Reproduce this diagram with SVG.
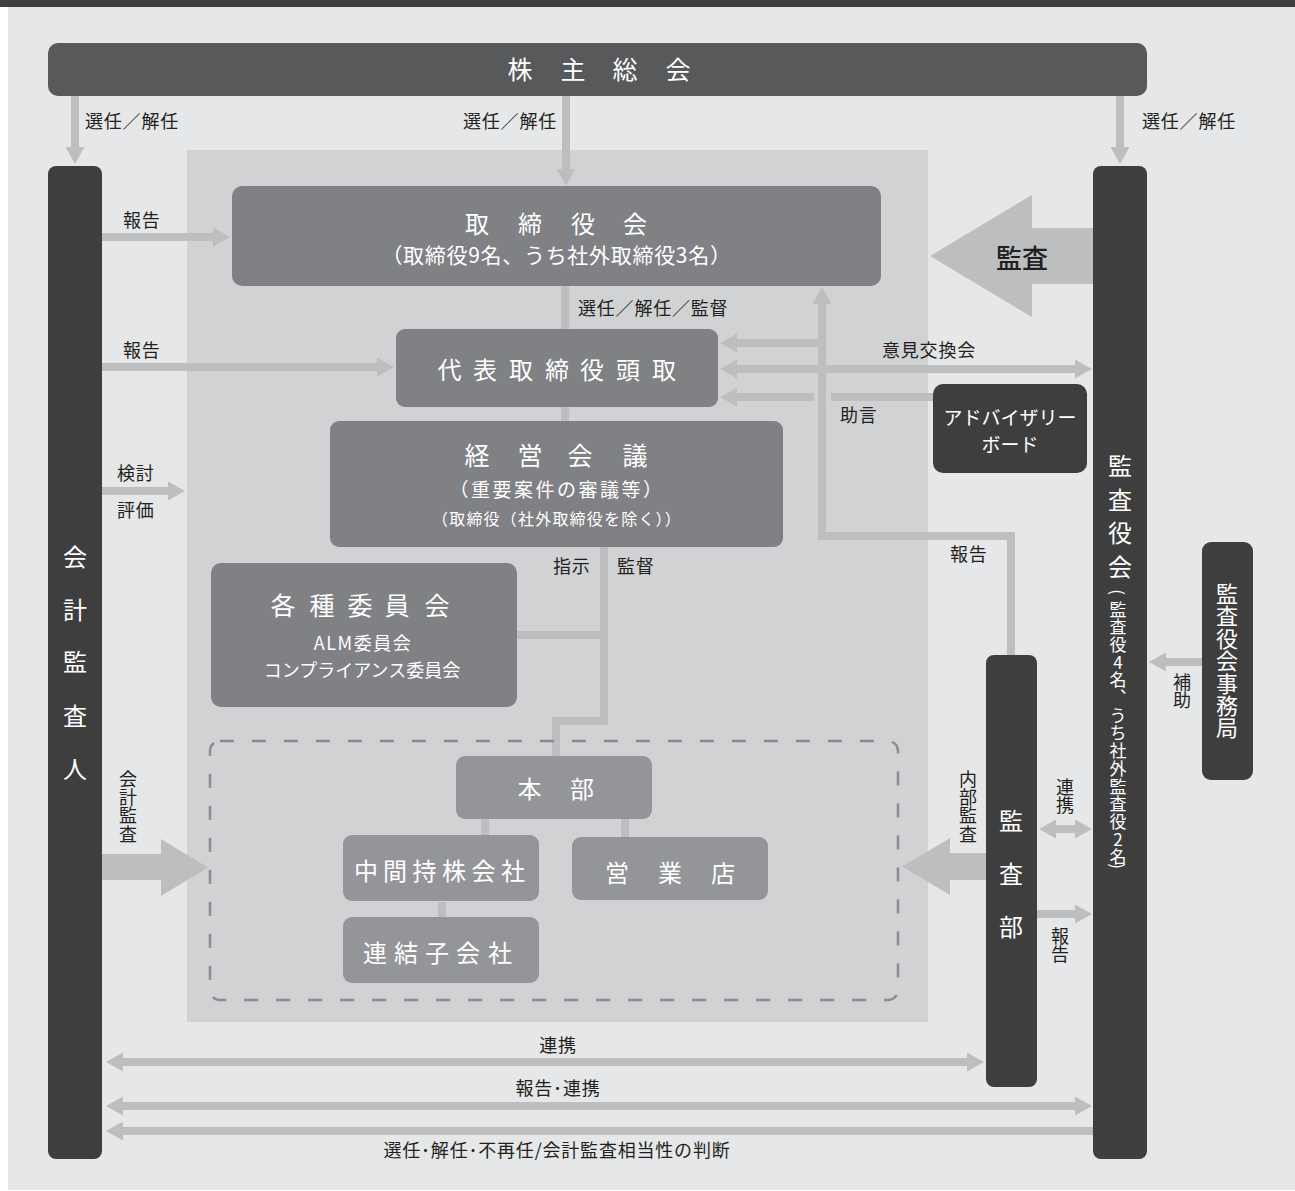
<svg xmlns="http://www.w3.org/2000/svg" width="1295" height="1191" viewBox="0 0 1295 1191">
<defs>
<style>
text{font-family:"Noto Sans CJK JP","Noto Sans CJK SC",sans-serif;}
.lb{font-size:18px;fill:#231f20;}
.sp{letter-spacing:0.8px;}
.w{fill:#ffffff;}
.dark{fill:#3e3e3f;}
.mid{fill:#808184;}
.light{fill:#949598;}
.c{stroke:#bcbec0;stroke-width:8;fill:none;}
.big{fill:#bcbec0;}
.mid-a{text-anchor:middle;}
.cen{dominant-baseline:central;}
</style>
<marker id="ah" viewBox="0 -10 18 20" markerWidth="18" markerHeight="20" refX="1" refY="0" orient="auto-start-reverse" markerUnits="userSpaceOnUse">
<path d="M0,-9.5 L17,0 L0,9.5Z" fill="#bcbec0"/>
</marker>
</defs>

<rect x="0" y="0" width="1295" height="1191" fill="#ffffff"/>
<rect x="8" y="7" width="1287" height="1183" fill="#e6e7e8"/>
<rect x="0" y="0" width="1295" height="7" fill="#3f3f40"/>
<rect x="187" y="150" width="741" height="872" fill="#d1d2d4"/>

<g id="connectors">
<path class="c" d="M75,96 V148" marker-end="url(#ah)"/>
<path class="c" d="M566,96 V170" marker-end="url(#ah)"/>
<path class="c" d="M1120,96 V148" marker-end="url(#ah)"/>
<path class="c" d="M102,237 H214" marker-end="url(#ah)"/>
<path class="c" d="M102,367 H378" marker-end="url(#ah)"/>
<path class="c" d="M102,491 H169" marker-end="url(#ah)"/>
<path class="c" d="M565,286 V329 M565,407 V421"/>
<path class="c" d="M1011,655 V536 H822 V303" marker-end="url(#ah)"/>
<path class="c" d="M822,343 H736" marker-end="url(#ah)"/>
<path class="c" d="M736,369 H1076" marker-start="url(#ah)" marker-end="url(#ah)"/>
<path class="c" d="M933,397 H831"/>
<path class="c" d="M814,397 H736" marker-end="url(#ah)"/>
<path class="c" d="M604,547 V721 H556 V756 M604,635 H517"/>
<path class="c" d="M485,819 V836 M625,819 V837 M442,902 V918"/>
<path class="c" d="M1055,829 H1076" marker-start="url(#ah)" marker-end="url(#ah)"/>
<path class="c" d="M1037,914 H1076" marker-end="url(#ah)"/>
<path class="c" d="M1202,662 H1165" marker-end="url(#ah)"/>
<path class="c" d="M122,1062 H968" marker-start="url(#ah)" marker-end="url(#ah)"/>
<path class="c" d="M122,1106 H1076" marker-start="url(#ah)" marker-end="url(#ah)"/>
<path class="c" d="M1093,1131 H122" marker-end="url(#ah)"/>
<path class="big" d="M1093,228 H1032 V195 L930,256 L1032,317 V284 H1093 Z"/>
<path class="big" d="M102,854 H161 V839 L208,867.5 L161,896 V880 H102 Z"/>
<path class="big" d="M986,853 H950 V838 L902,866.5 L950,895 V880 H986 Z"/>
</g>

<g id="labels">
<text class="lb sp" x="85" y="128">選任／解任</text>
<text class="lb sp" x="463" y="128">選任／解任</text>
<text class="lb sp" x="1142" y="128">選任／解任</text>
<text class="lb sp" x="123" y="227">報告</text>
<text class="lb sp" x="123" y="357">報告</text>
<text class="lb sp" x="117" y="480">検討</text>
<text class="lb sp" x="117" y="517">評価</text>
<text class="lb sp" x="578" y="315">選任／解任／監督</text>
<text class="lb sp" x="882" y="357">意見交換会</text>
<text class="lb sp" x="840" y="422">助言</text>
<text class="lb sp" x="553" y="573">指示</text>
<text class="lb sp" x="617" y="573">監督</text>
<text class="lb sp" x="950" y="561">報告</text>
<text class="lb mid-a" x="128 128 128 128" y="786 804 822 841">会計監査</text>
<text class="lb mid-a" x="968 968 968 968" y="786 804 822 841">内部監査</text>
<text class="lb mid-a" x="1065 1065" y="794 812">連携</text>
<text class="lb mid-a" x="1060 1060" y="943 961">報告</text>
<text class="lb mid-a" x="1182 1182" y="689 707">補助</text>
<text class="lb sp mid-a" x="558" y="1052">連携</text>
<text class="lb sp mid-a" x="558" y="1095">報告･連携</text>
<text class="lb sp mid-a" x="557" y="1157">選任･解任･不再任/会計監査相当性の判断</text>
<text class="mid-a" x="1022" y="268" font-size="26" fill="#231f20" font-weight="500">監査</text>
</g>

<g id="shareholders">
<rect x="48" y="43" width="1099" height="53" rx="10" fill="#58595b"/>
<text class="w mid-a" font-size="25" x="520 573 625 678" y="79">株主総会</text>
</g>

<g id="accounting-auditor">
<rect class="dark" x="48" y="166" width="54" height="993" rx="8"/>
<text class="w mid-a" font-size="24" x="75 75 75 75 75" y="566 619 671 725 778">会計監査人</text>
</g>

<g id="audit-board">
<rect class="dark" x="1093" y="166" width="54" height="993" rx="8"/>
<text class="w mid-a" font-size="24" x="1120 1120 1120 1120" y="475 508.5 542 575.5">監査役会</text>
<text class="w mid-a cen" font-size="17" transform="rotate(90 1118 592)" x="1118" y="592">(</text>
<text class="w mid-a cen" font-size="17" x="1118 1118 1118 1118 1118 1118" y="608 625.7 643.4 661.1 678.8 696.5">監査役4名︑</text>
<text class="w mid-a cen" font-size="17" x="1118 1118 1118 1118 1118 1118 1118 1118 1118" y="714.2 731.9 749.6 767.3 785 802.7 820.4 838.1 855.8">うち社外監査役2名</text>
<text class="w mid-a cen" font-size="17" transform="rotate(90 1118 866)" x="1118" y="866">)</text>
</g>

<g id="audit-board-office">
<rect class="dark" x="1202" y="542" width="51" height="238" rx="9"/>
<text class="w mid-a" font-size="22" x="1227 1227 1227 1227 1227 1227 1227" y="602 624.4 646.8 669.2 691.6 714 736.4">監査役会事務局</text>
</g>

<g id="board">
<rect class="mid" x="232" y="186" width="649" height="100" rx="10"/>
<text class="w mid-a" font-size="24" x="477 530 583 635" y="233">取締役会</text>
<text class="w mid-a" font-size="21" letter-spacing="0.7" x="556.5" y="263">（取締役9名、うち社外取締役3名）</text>
</g>

<g id="president">
<rect class="mid" x="396" y="329" width="322" height="78" rx="9"/>
<text class="w mid-a" font-size="24" x="449.5 485 521 557 592 628 664" y="379">代表取締役頭取</text>
</g>

<g id="management-meeting">
<rect class="mid" x="330" y="421" width="453" height="126" rx="9"/>
<text class="w mid-a" font-size="25" x="477 530 580 635" y="465">経営会議</text>
<text class="w mid-a" font-size="19" letter-spacing="2.5" x="557" y="497">（重要案件の審議等）</text>
<text class="w mid-a" font-size="16" letter-spacing="1.2" x="557" y="525">（取締役（社外取締役を除く））</text>
</g>

<g id="advisory-board">
<rect class="dark" x="933" y="384" width="154" height="89" rx="10"/>
<text class="w mid-a" font-size="19" x="1010" y="425">アドバイザリー</text>
<text class="w mid-a" font-size="19" x="1010" y="452">ボード</text>
</g>

<g id="committees">
<rect class="mid" x="211" y="563" width="306" height="144" rx="10"/>
<text class="w mid-a" font-size="25" x="283 322 360 397 437" y="615">各種委員会</text>
<text class="w mid-a" font-size="18" letter-spacing="1.5" x="363" y="650">ALM委員会</text>
<text class="w mid-a" font-size="18" x="362" y="677">コンプライアンス委員会</text>
</g>

<g id="group-scope">
<rect x="210" y="741" width="688" height="259" rx="10" fill="none" stroke="#8b8c8f" stroke-width="2.5" stroke-dasharray="14 18"/>
</g>

<g id="headquarters">
<rect class="light" x="456" y="756" width="196" height="63" rx="9"/>
<text class="w mid-a" font-size="24" x="529.5 582" y="798">本部</text>
</g>

<g id="holding">
<rect class="light" x="343" y="835" width="196" height="66" rx="9"/>
<text class="w mid-a" font-size="24" x="366 395 424.5 454 483.5 513" y="880">中間持株会社</text>
</g>

<g id="branches">
<rect class="light" x="572" y="837" width="196" height="63" rx="9"/>
<text class="w mid-a" font-size="24" x="617 670 723" y="882">営業店</text>
</g>

<g id="subsidiaries">
<rect class="light" x="343" y="917" width="196" height="66" rx="9"/>
<text class="w mid-a" font-size="24" x="375 406 437 468 500" y="962">連結子会社</text>
</g>

<g id="audit-dept">
<rect class="dark" x="986" y="655" width="51" height="432" rx="8"/>
<text class="w mid-a" font-size="24" x="1011 1011 1011" y="830 883 936">監査部</text>
</g>
</svg>
